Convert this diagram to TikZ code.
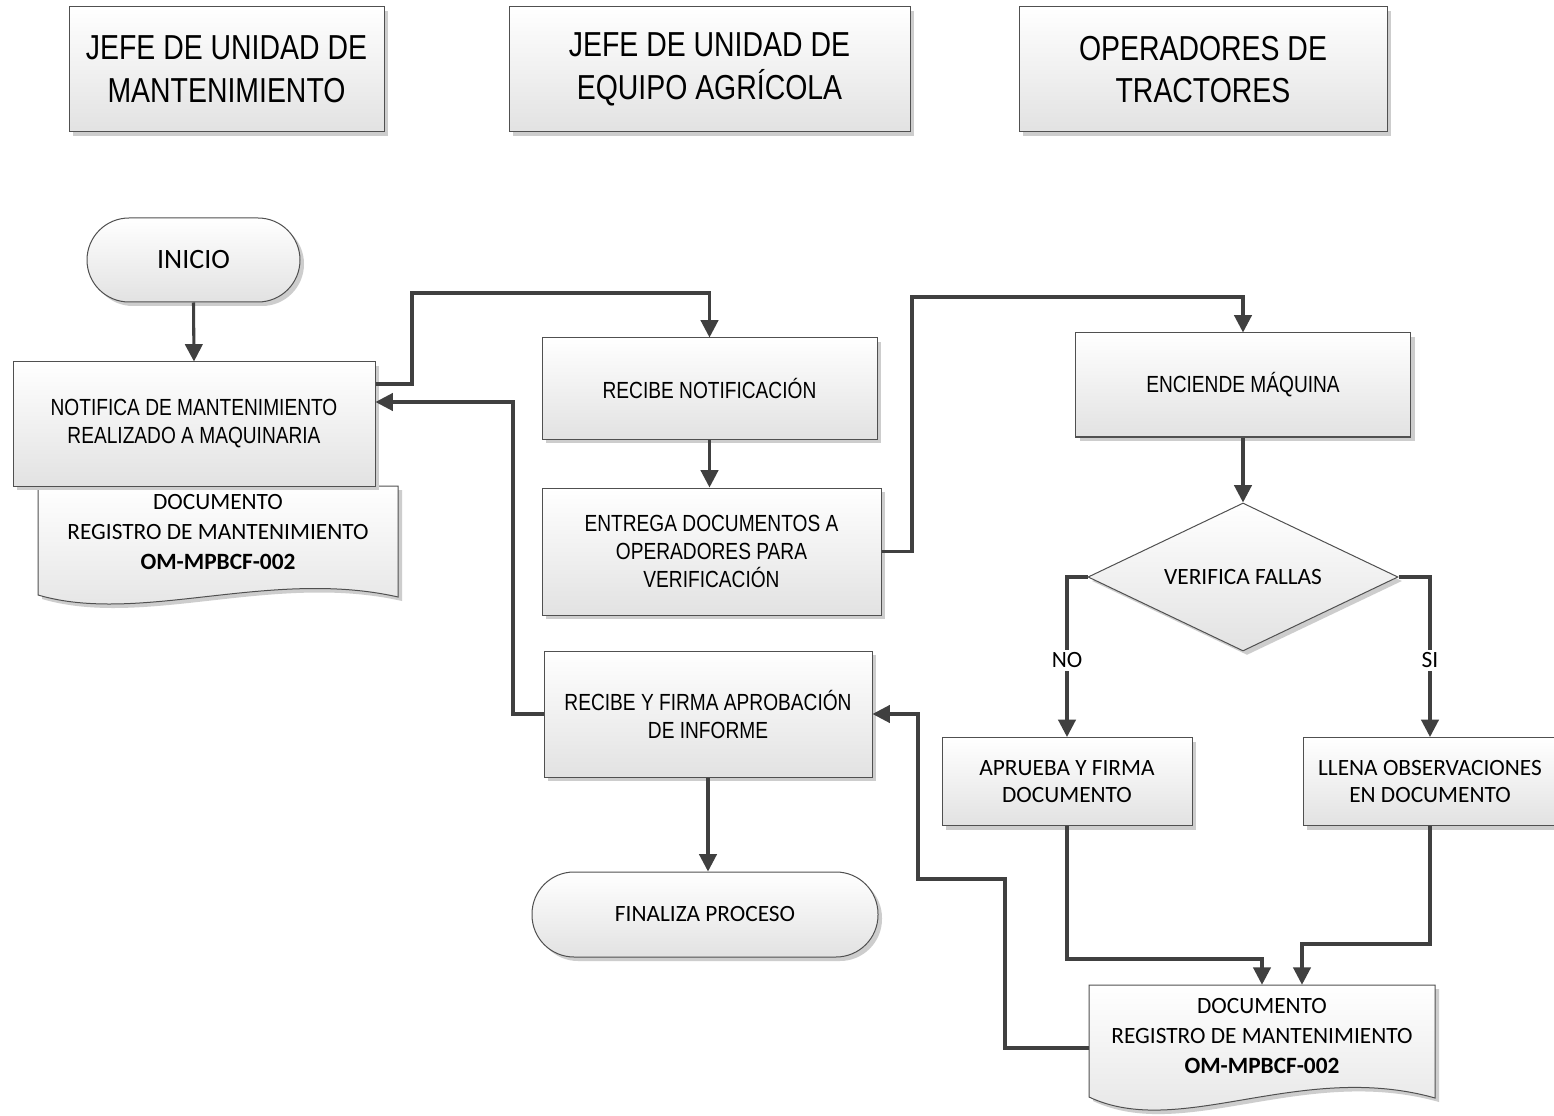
\documentclass[tikz,border=0pt]{standalone}
\usepackage{fontspec}
\setmainfont{Carlito}
\newfontfamily\narrowfont[FakeStretch=0.82]{Liberation Sans}
\usetikzlibrary{shapes.geometric,shadows,arrows.meta}
\definecolor{linecol}{HTML}{404040}
\definecolor{edgecol}{HTML}{505050}
\definecolor{boxbot}{HTML}{E2E2E2}
\definecolor{shadowcol}{HTML}{CDCDCD}
\tikzset{
  shaded box/.style={draw=edgecol, line width=0.75pt, top color=white, bottom color=boxbot,
    drop shadow={shadow xshift=3pt, shadow yshift=-3pt, fill=shadowcol, opacity=1}},
  header/.style={shaded box, minimum height=93.75pt, inner sep=0pt, align=center,
    font=\narrowfont\fontsize{26}{32}\selectfont},
  proc/.style={shaded box, inner sep=0pt, align=center,
    font=\narrowfont\fontsize{17.5}{21}\selectfont},
  procc/.style={shaded box, inner sep=0pt, align=center,
    font=\fontsize{17.5}{20}\selectfont},
  terminal/.style={shaded box, rounded corners=31.5pt, inner sep=0pt, align=center},
  decision/.style={shaded box, diamond, aspect=2.1, inner sep=0pt,
    minimum width=232.5pt, minimum height=111pt, font=\fontsize{17.5}{21}\selectfont},
  doctext/.style={inner sep=0pt, align=center, font=\fontsize{17.5}{22.5}\selectfont},
  flow/.style={draw=linecol, line width=2.3pt, -{Triangle[length=13pt,width=13pt]}},
  branch/.style={fill=white, inner sep=2pt, font=\fontsize{17.5}{21}\selectfont}
}
\begin{document}
\begin{tikzpicture}[x=0.75pt, y=-0.75pt]
\useasboundingbox[fill=white] (0,0) rectangle (1554,1116);

% lane headers
\node[header, minimum width=236.25pt] (h1) at (226.5,69.5) {JEFE DE UNIDAD DE\\MANTENIMIENTO};
\node[header, minimum width=300.75pt] (h2) at (709.5,69.5) {JEFE DE UNIDAD DE\\EQUIPO AGRÍCOLA};
\node[header, minimum width=276pt] (h3) at (1203,69.5) {OPERADORES DE\\TRACTORES};

% start
\node[terminal, minimum width=159.75pt, minimum height=63pt,
      font=\fontsize{21}{25}\selectfont] (inicio) at (193.5,260) {INICIO};

% document attached to the notification
\path[shaded box] (38,486) -- (398,486) -- (398,597)
  .. controls (270,568) and (140,625) .. (38,595) -- cycle;
\node[proc, minimum width=271.5pt, minimum height=93pt] (notif) at (194,424)
  {NOTIFICA DE MANTENIMIENTO\\REALIZADO A MAQUINARIA};
\node[doctext] (doc1) at (218,532)
  {DOCUMENTO\\REGISTRO DE MANTENIMIENTO\\\textbf{OM-MPBCF-002}};

% second lane
\node[proc, minimum width=251.25pt, minimum height=75.75pt] (recn) at (709.5,388.5)
  {RECIBE NOTIFICACIÓN};
\node[proc, minimum width=254.25pt, minimum height=95.25pt] (entrega) at (711.5,551.5)
  {ENTREGA DOCUMENTOS A\\OPERADORES PARA\\VERIFICACIÓN};
\node[proc, minimum width=246pt, minimum height=94.5pt] (recf) at (708,714)
  {RECIBE Y FIRMA APROBACIÓN\\DE INFORME};
\node[terminal, minimum width=259.5pt, minimum height=63.75pt,
      font=\fontsize{17.5}{21}\selectfont] (final) at (705,914.5) {FINALIZA PROCESO};

% third lane
\node[proc, minimum width=251.25pt, minimum height=78pt] (enc) at (1243,385)
  {ENCIENDE MÁQUINA};
\node[decision] (dia) at (1243,577) {VERIFICA FALLAS};
\node[procc, minimum width=187.5pt, minimum height=66pt] (apr) at (1067,781.5)
  {APRUEBA Y FIRMA\\DOCUMENTO};
\node[procc, minimum width=190.5pt, minimum height=66pt] (llena) at (1430,781.5)
  {LLENA OBSERVACIONES\\EN DOCUMENTO};

% signed document
\path[shaded box] (1089,985) -- (1435,985) -- (1435,1098)
  .. controls (1300,1060) and (1180,1140) .. (1089,1097) -- cycle;
\node[doctext, minimum width=259.5pt, minimum height=77.25pt] (doc2) at (1262,1036.5)
  {DOCUMENTO\\REGISTRO DE MANTENIMIENTO\\\textbf{OM-MPBCF-002}};

% connectors
\draw[flow] (inicio.south) -- (notif.north);
\draw[flow] (notif.east |- 0,384) -| (412,293) -| (recn.north);
\draw[flow] (recn.south) -- (recn.south |- entrega.north);
\draw[flow] (entrega.east) -| (912,297) -| (enc.north);
\draw[flow] (enc.south) -- (dia.north);
\draw[flow] (dia.west) -| node[branch, pos=0.76] {NO} (apr.north);
\draw[flow] (dia.east) -| node[branch, pos=0.76] {SI} (llena.north);
\draw[flow] (apr.south) -- ++(0,133) -| (doc2.north);
\draw[flow] (llena.south) -- ++(0,118) -| (doc2.north -| 1302,0);
\draw[flow] (doc2.west |- 0,1048) -| (1005,879) -- (918,879) |- (recf.east);
\draw[flow] (recf.west) -| (513,402) -- (notif.east |- 0,402);
\draw[flow] (recf.south) -- (recf.south |- final.north);
\end{tikzpicture}
\end{document}
